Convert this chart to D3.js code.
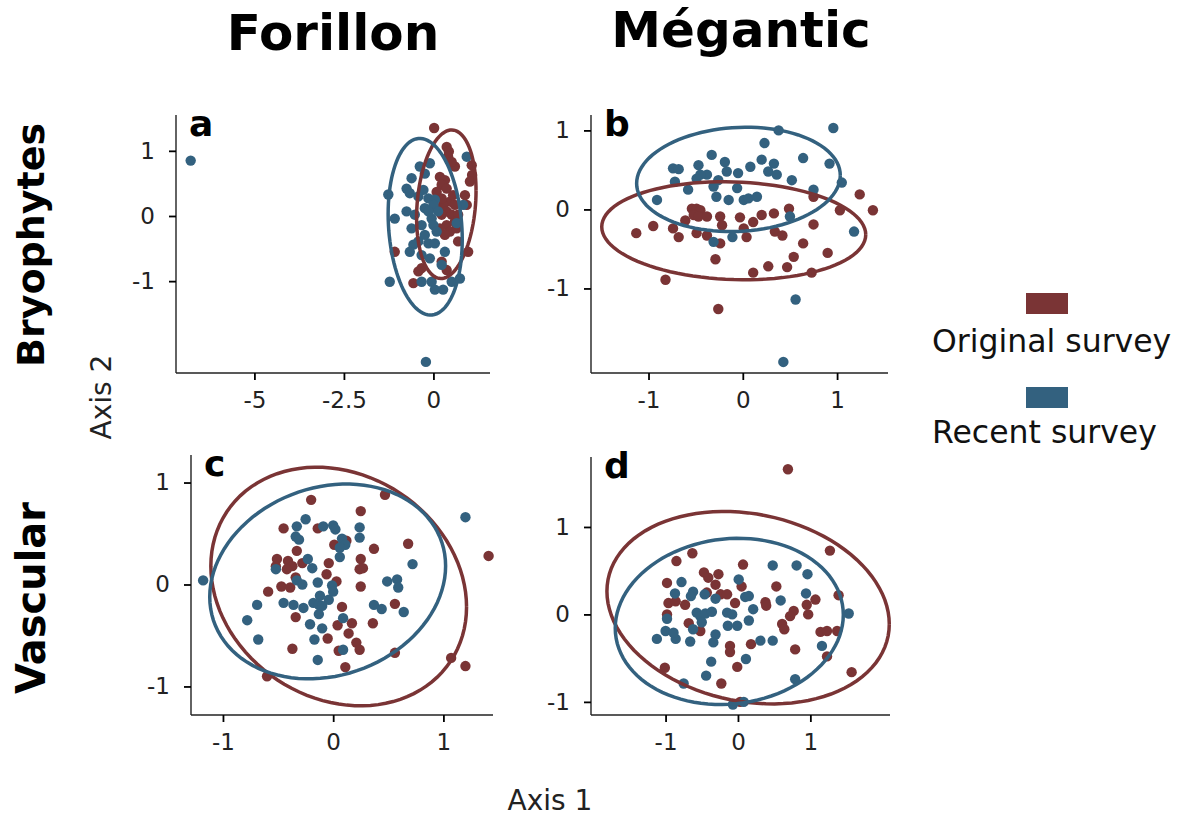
<!DOCTYPE html>
<html>
<head>
<meta charset="utf-8">
<script src="https://cdn.jsdelivr.net/npm/d3@7"></script>
<style>
  body { margin: 0; background: #fff; }
  text { font-family: "DejaVu Sans", Verdana, sans-serif; }
</style>
</head>
<body>
<div id="chart"></div>
<script>
'use strict';

// survey groups
const groups = ["Original survey", "Recent survey"]
const colors = ["#7a3435", "#33617f"]

// Forillon - bryophytes (axis1, axis2)
const forBryoOriginal = [
    [0.02, 1.35], [0.37, 1.06], [0.43, 0.99], [0.41, 0.91], [0.60, 0.76], [0.51, 0.83],
    [1.07, 0.78], [1.08, 0.63], [0.18, 0.60], [0.32, 0.55], [0.23, 0.48], [0.37, 0.42],
    [0.09, 0.37], [0.46, 0.22], [0.60, 0.17], [0.27, 0.17], [0.37, 0.07], [0.23, 0.02],
    [0.51, 0.02], [0.69, 0.02], [0.60, -0.09], [0.37, -0.14], [0.18, -0.19], [0.46, -0.24],
    [0.32, -0.29], [0.88, 0.32], [0.93, 0.17], [0.65, -0.19], [0.69, -0.39], [-1.08, -0.55],
    [0.97, -0.55], [-0.33, -0.80], [-0.42, -0.85], [0.37, -0.83], [0.23, -0.70], [-0.56, -1.03],
    [1.02, 0.53], [0.23, 0.27], [0.09, 0.12], [0.55, 0.32]
]
const forBryoRecent = [
    [-6.78, 0.85], [-0.21, -2.24], [0.93, 0.91], [-0.38, 0.76], [-0.10, 0.81], [-0.24, 0.65],
    [-0.61, 0.58], [-0.75, 0.42], [-0.66, 0.35], [-0.28, 0.40], [-0.14, 0.27], [-0.42, 0.30],
    [-1.26, 0.33], [0.04, 0.25], [0.00, 0.17], [-0.24, 0.12], [-0.75, 0.07], [-1.08, -0.04],
    [-0.52, 0.02], [-0.05, -0.04], [0.83, 0.17], [-0.61, -0.19], [-0.33, -0.14], [0.00, -0.14],
    [0.09, -0.24], [-0.24, -0.29], [-0.42, -0.39], [-0.56, -0.44], [-0.14, -0.42], [0.04, -0.42],
    [0.32, -0.55], [-0.66, -0.55], [-0.33, -0.60], [-0.10, -0.65], [0.23, -0.75], [0.74, -0.96],
    [-1.22, -1.01], [-0.33, -1.01], [-0.05, -1.01], [0.04, -1.13], [0.27, -1.13], [0.51, -1.01],
    [0.13, 0.07], [-0.14, 0.07], [0.65, -0.11]
]

// Megantic - bryophytes
const megBryoOriginal = [
    [-1.13, -0.30], [-0.95, -0.21], [-0.82, -0.89], [-0.74, -0.24], [-0.68, -0.35], [-0.61, -0.14],
    [-0.54, 0.01], [-0.49, 0.01], [-0.45, -0.01], [-0.52, -0.07], [-0.47, -0.09], [-0.38, -0.09],
    [-0.49, -0.30], [-0.38, -0.33], [-0.24, -0.09], [-0.22, -0.20], [-0.24, -0.43], [-0.29, -0.63],
    [-0.26, -1.26], [-0.03, -0.10], [0.01, -0.24], [0.04, -0.35], [0.11, -0.16], [0.20, -0.07],
    [0.33, -0.05], [0.49, 0.01], [0.34, -0.28], [0.42, -0.33], [0.75, -0.19], [0.75, 0.16],
    [0.64, -0.43], [0.54, -0.60], [0.47, -0.73], [0.27, -0.72], [0.11, -0.80], [0.73, -0.80],
    [0.90, -0.55], [1.03, -0.01], [1.24, 0.19], [1.38, -0.01]
]
const megBryoRecent = [
    [0.38, 1.00], [0.96, 1.03], [0.23, 0.84], [-0.33, 0.69], [-0.74, 0.52], [-0.68, 0.51],
    [-0.47, 0.56], [-0.38, 0.44], [-0.19, 0.60], [-0.17, 0.48], [-0.05, 0.46], [0.08, 0.54],
    [0.20, 0.63], [0.33, 0.58], [0.27, 0.48], [0.36, 0.44], [0.52, 0.37], [0.64, 0.65],
    [0.92, 0.58], [1.05, 0.34], [-0.72, 0.35], [-0.58, 0.25], [-0.49, 0.39], [-0.31, 0.29],
    [-0.28, 0.16], [-0.15, 0.12], [-0.06, 0.27], [0.01, 0.12], [0.06, 0.14], [0.15, 0.16],
    [-0.91, 0.12], [0.75, 0.25], [0.50, -0.09], [1.18, -0.28], [-0.31, -0.41], [-0.11, -0.35],
    [0.56, -1.14], [0.43, -1.93], [-0.45, 0.44], [-0.26, 0.37]
]

// Forillon - vascular
const forVascOriginal = [
    [-0.20, 0.83], [0.47, 0.88], [0.25, 0.72], [-0.45, 0.55], [-0.14, 0.55], [0.12, 0.43],
    [0.01, 0.39], [0.37, 0.35], [0.68, 0.40], [1.41, 0.28], [-0.33, 0.33], [-0.51, 0.25],
    [-0.52, 0.18], [-0.41, 0.23], [-0.37, 0.18], [-0.42, 0.15], [-0.28, 0.21], [-0.04, 0.21],
    [0.25, 0.25], [0.24, 0.15], [0.27, 0.16], [-0.06, 0.10], [-0.34, 0.07], [0.03, 0.03],
    [-0.47, -0.02], [-0.39, -0.03], [-0.59, -0.07], [0.25, -0.02], [0.08, -0.22], [0.56, -0.19],
    [-0.34, -0.32], [0.04, -0.40], [0.17, -0.38], [0.14, -0.48], [0.36, -0.38], [-0.05, -0.53],
    [0.21, -0.57], [0.24, -0.64], [-0.37, -0.63], [0.05, -0.65], [0.56, -0.67], [0.11, -0.81],
    [1.07, -0.72], [1.20, -0.80], [-0.60, -0.90]
]
const forVascRecent = [
    [-1.18, 0.04], [1.20, 0.66], [-0.25, 0.64], [-0.33, 0.57], [-0.34, 0.47], [-0.31, 0.44],
    [-0.09, 0.57], [0.00, 0.58], [0.02, 0.54], [0.24, 0.56], [0.24, 0.46], [0.08, 0.45],
    [0.11, 0.39], [0.06, 0.36], [0.06, 0.27], [-0.23, 0.25], [-0.19, 0.16], [-0.52, 0.15],
    [0.72, 0.20], [-0.33, 0.04], [-0.28, 0.00], [-0.14, 0.02], [-0.01, -0.01], [0.00, -0.07],
    [-0.04, -0.15], [-0.12, -0.11], [-0.18, -0.18], [-0.13, -0.20], [-0.10, -0.21], [-0.27, -0.23],
    [-0.45, -0.18], [-0.36, -0.20], [-0.13, -0.29], [-0.69, -0.20], [-0.78, -0.35], [-0.21, -0.39],
    [-0.10, -0.43], [0.09, -0.33], [-0.17, -0.54], [-0.68, -0.54], [0.37, -0.20], [0.44, -0.24],
    [0.49, 0.03], [0.58, 0.05], [0.59, -0.03], [0.64, -0.27], [0.09, -0.64], [-0.14, -0.74]
]

// Megantic - vascular
const megVascOriginal = [
    [0.69, 1.66], [1.27, 0.73], [-0.63, 0.70], [-0.85, 0.61], [0.07, 0.57], [-0.47, 0.48],
    [-0.41, 0.42], [-0.27, 0.46], [-0.31, 0.34], [-0.98, 0.36], [0.05, 0.32], [0.53, 0.32],
    [-0.24, 0.23], [-0.15, 0.23], [-0.43, 0.25], [-0.96, 0.13], [-0.86, 0.15], [-0.73, 0.11],
    [-0.04, 0.13], [0.38, 0.14], [0.39, 0.10], [0.77, 0.04], [0.72, -0.02], [0.95, 0.11],
    [0.97, 0.00], [1.07, 0.17], [1.39, 0.22], [-0.98, 0.00], [-0.68, -0.10], [-0.52, -0.19],
    [0.61, -0.11], [0.64, -0.17], [1.14, -0.20], [1.23, -0.19], [1.37, -0.19], [-0.11, -0.36],
    [-0.11, -0.43], [0.18, -0.34], [0.79, -0.40], [1.23, -0.48], [-0.01, -0.60], [-1.01, -0.61],
    [1.57, -0.66], [-0.23, -0.79], [0.03, -1.00]
]
const megVascRecent = [
    [-0.78, 0.37], [-0.87, 0.24], [-0.62, 0.26], [-0.65, 0.21], [-0.46, 0.23], [-0.31, 0.18],
    [0.01, 0.40], [0.10, 0.20], [0.15, 0.21], [0.48, 0.56], [0.81, 0.56], [0.96, 0.46],
    [0.94, 0.24], [0.59, 0.16], [-0.98, -0.05], [-0.57, 0.02], [-0.52, -0.02], [-0.45, 0.01],
    [-0.36, 0.03], [-0.50, -0.09], [-0.15, 0.02], [-0.08, 0.00], [-0.14, -0.13], [-0.01, -0.13],
    [0.21, 0.06], [0.15, -0.07], [-0.62, -0.17], [-1.12, -0.28], [-1.00, -0.19], [-0.86, -0.28],
    [-0.89, -0.21], [-0.66, -0.31], [-0.31, -0.23], [-0.34, -0.32], [0.31, -0.30], [0.48, -0.30],
    [1.16, -0.36], [1.53, 0.01], [0.11, -0.51], [-0.37, -0.54], [-0.44, -0.70], [-0.75, -0.79],
    [0.79, -0.74], [-0.07, -1.03], [0.08, -1.00]
]

// 95% ellipses: [centre x, centre y, half extent x, half extent y, correlation]
const forBryoEllipses = [[0.36, 0.18, 0.83, 1.14, 0.18], [-0.23, -0.165, 1.035, 1.355, -0.145]]
const megBryoEllipses = [[-0.096, -0.27, 1.40, 0.62, -0.08], [-0.046, 0.38, 1.08, 0.66, 0.077]]
const forVascEllipses = [[0.05, -0.02, 1.16, 1.17, -0.171], [-0.05, 0.03, 1.07, 0.955, 0.159]]
const megVascEllipses = [[0.14, 0.077, 1.95, 1.10, -0.17], [-0.12, -0.08, 1.575, 0.95, 0.08]]

// axis limits and ticks
const forBryoXDomain = [-7.19, 1.58], forBryoYDomain = [-2.41, 1.55]
const megBryoXDomain = [-1.61, 1.54], megBryoYDomain = [-2.07, 1.195]
const forVascXDomain = [-1.29, 1.45], forVascYDomain = [-1.28, 1.27]
const megVascXDomain = [-2.03, 2.10], megVascYDomain = [-1.15, 1.80]
const forBryoXTicks = [-5, -2.5, 0]
const unitTicks = [-1, 0, 1]

const width = 1188, height = 816

const svg = d3.select("#chart").append("svg")
    .attr("width", width)
    .attr("height", height)

// panels layout
const panels = [
    { tag: "a", left: 176, right: 490, top: 115, bottom: 373, xd: forBryoXDomain, yd: forBryoYDomain, xt: forBryoXTicks, yt: unitTicks, pts: [forBryoOriginal, forBryoRecent], ell: forBryoEllipses },
    { tag: "b", left: 591, right: 888, top: 115, bottom: 373, xd: megBryoXDomain, yd: megBryoYDomain, xt: unitTicks, yt: unitTicks, pts: [megBryoOriginal, megBryoRecent], ell: megBryoEllipses },
    { tag: "c", left: 191, right: 493, top: 455, bottom: 715, xd: forVascXDomain, yd: forVascYDomain, xt: unitTicks, yt: unitTicks, pts: [forVascOriginal, forVascRecent], ell: forVascEllipses },
    { tag: "d", left: 591, right: 890, top: 457, bottom: 715, xd: megVascXDomain, yd: megVascYDomain, xt: unitTicks, yt: unitTicks, pts: [megVascOriginal, megVascRecent], ell: megVascEllipses }
]

const ellipsePoints = (e) => {
    const [cx, cy, sx, sy, r] = e
    const k = Math.sqrt(1 - r * r)
    return d3.range(0, 101).map(i => {
        const t = i / 100 * 2 * Math.PI
        return [cx + sx * Math.cos(t), cy + sy * (r * Math.cos(t) + k * Math.sin(t))]
    })
}

panels.forEach(p => {
    const x = d3.scaleLinear().domain(p.xd).range([p.left, p.right])
    const y = d3.scaleLinear().domain(p.yd).range([p.bottom, p.top])
    const g = svg.append("g")

    // axes
    const xAxis = g.append("g")
        .attr("transform", `translate(0,${p.bottom})`)
        .call(d3.axisBottom(x).tickValues(p.xt).tickSize(7).tickPadding(6))
    const yAxis = g.append("g")
        .attr("transform", `translate(${p.left},0)`)
        .call(d3.axisLeft(y).tickValues(p.yt).tickSize(7).tickPadding(14))
    ;[xAxis, yAxis].forEach(a => {
        a.select(".domain").attr("stroke", "#222").attr("stroke-width", 1.4)
            .attr("d", a === xAxis ? `M${p.left},0H${p.right}` : `M0,${p.top}V${p.bottom}`)
        a.selectAll(".tick line").attr("stroke", "#000").attr("stroke-width", 1.8)
        a.selectAll(".tick text").attr("fill", "#222").style("font-size", "23px")
    })
    xAxis.selectAll(".tick text").attr("dy", "0.95em")
    // plain hyphen minus like the reference
    g.selectAll(".tick text").text(d => String(d))

    // points
    p.pts.forEach((pts, gi) => {
        g.append("g").selectAll("circle")
            .data(pts)
            .enter().append("circle")
            .attr("cx", d => x(d[0]))
            .attr("cy", d => y(d[1]))
            .attr("r", 5.2)
            .attr("fill", colors[gi])
    })

    // ellipses
    const line = d3.line().x(d => x(d[0])).y(d => y(d[1]))
    p.ell.forEach((e, gi) => {
        g.append("path")
            .attr("d", line(ellipsePoints(e)))
            .attr("fill", "none")
            .attr("stroke", colors[gi])
            .attr("stroke-width", 3.5)
    })

    // panel tag
    g.append("text")
        .attr("x", p.left + 13)
        .attr("y", p.top + 21)
        .style("font-size", "36px")
        .style("font-weight", "bold")
        .text(p.tag)
})

// column titles
svg.append("text").attr("x", 333).attr("y", 50).attr("text-anchor", "middle")
    .style("font-size", "50px").style("font-weight", "bold").text("Forillon")
svg.append("text").attr("x", 741).attr("y", 47).attr("text-anchor", "middle")
    .style("font-size", "50px").style("font-weight", "bold").text("Mégantic")

// row titles
svg.append("text").attr("transform", "translate(44,245) rotate(-90)").attr("text-anchor", "middle")
    .style("font-size", "38px").style("font-weight", "bold").text("Bryophytes")
svg.append("text").attr("transform", "translate(45,598) rotate(-90)").attr("text-anchor", "middle")
    .style("font-size", "40px").style("font-weight", "bold").text("Vascular")

// axis titles
svg.append("text").attr("transform", "translate(111,397) rotate(-90)").attr("text-anchor", "middle")
    .style("font-size", "28px").attr("fill", "#222").text("Axis 2")
svg.append("text").attr("x", 550).attr("y", 810).attr("text-anchor", "middle")
    .style("font-size", "28px").attr("fill", "#222").text("Axis 1")

// legend
const legend = svg.append("g").selectAll("g")
    .data(groups)
    .enter().append("g")
legend.append("rect")
    .attr("x", 1026).attr("y", (d, i) => 293 + i * 94)
    .attr("width", 42).attr("height", 21)
    .attr("fill", (d, i) => colors[i])
legend.append("text")
    .attr("x", 932).attr("y", (d, i) => 352 + i * 91)
    .style("font-size", "31.5px")
    .attr("fill", "#111")
    .text(d => d)
</script>
</body>
</html>
